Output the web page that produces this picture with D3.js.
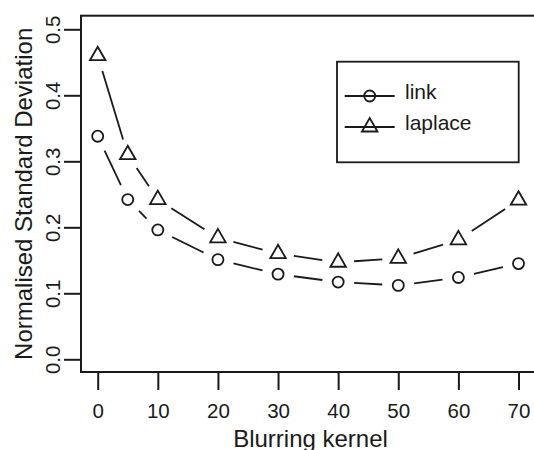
<!DOCTYPE html>
<html>
<head>
<meta charset="utf-8">
<script src="https://cdn.jsdelivr.net/npm/d3@7/dist/d3.min.js"></script>
<style>
  html, body { margin: 0; padding: 0; background: #fff; }
  svg { display: block; }
  text { font-family: "Liberation Sans", Arial, Helvetica, sans-serif; fill: #1a1a1a; }
</style>
</head>
<body>
<svg id="chart" width="534" height="450"></svg>
<script>
// ---- data ----
const kernels = [0, 5, 10, 20, 30, 40, 50, 60, 70];
const linkValues = [0.338, 0.242, 0.196, 0.151, 0.129, 0.117, 0.112, 0.124, 0.145];
const laplaceValues = [0.460, 0.310, 0.242, 0.184, 0.160, 0.147, 0.153, 0.181, 0.241];
const xTicks = [0, 10, 20, 30, 40, 50, 60, 70];
const yTicks = [0.0, 0.1, 0.2, 0.3, 0.4, 0.5];
const seriesNames = ["link", "laplace"];
const xTitle = "Blurring kernel";
const yTitle = "Normalised Standard Deviation";

// ---- layout ----
const W = 534, H = 450;
const box = { left: 81, top: 15.7, bottom: 372, right: 540 };
const ink = "#1a1a1a";

const svg = d3.select("#chart");
const x = d3.scaleLinear().domain([0, 70]).range([97.7, 518.5]);
const y = d3.scaleLinear().domain([0, 0.5]).range([359.3, 29.3]);

// plot box (right side cut off by the picture edge)
svg.append("rect")
  .attr("x", box.left).attr("y", box.top)
  .attr("width", box.right - box.left).attr("height", box.bottom - box.top)
  .attr("fill", "none").attr("stroke", ink).attr("stroke-width", 2);

// x axis
const xAxis = d3.axisBottom(x).tickValues(xTicks).tickSize(18).tickPadding(0)
  .tickFormat(d3.format("d"));
const gx = svg.append("g").attr("transform", `translate(0,${box.bottom})`).call(xAxis);
gx.select(".domain").remove();
gx.selectAll(".tick line").attr("stroke", ink).attr("stroke-width", 2);
gx.selectAll(".tick text")
  .attr("y", 45.5).attr("dy", null)
  .attr("font-size", 20.5).attr("fill", ink)
  .style("font-family", '"Liberation Sans", Arial, sans-serif');

// y axis
const yAxis = d3.axisLeft(y).tickValues(yTicks).tickSize(17).tickPadding(0)
  .tickFormat(d3.format(".1f"));
const gy = svg.append("g").attr("transform", `translate(${box.left},0)`).call(yAxis);
gy.select(".domain").attr("stroke", ink).attr("stroke-width", 2)
  .attr("d", `M0,${y(0)}V${y(0.5)}`);
gy.selectAll(".tick line").attr("stroke", ink).attr("stroke-width", 2);
gy.selectAll(".tick text")
  .attr("x", null).attr("dy", null)
  .attr("transform", "translate(-21,0) rotate(-90)")
  .attr("text-anchor", "middle")
  .attr("font-size", 20.5).attr("fill", ink)
  .style("font-family", '"Liberation Sans", Arial, sans-serif');

// axis titles
svg.append("text")
  .attr("x", 310.5).attr("y", 446.5)
  .attr("text-anchor", "middle").attr("font-size", 24)
  .text(xTitle);
svg.append("text")
  .attr("transform", `translate(32,${(box.top + box.bottom) / 2}) rotate(-90)`)
  .attr("text-anchor", "middle").attr("font-size", 24)
  .text(yTitle);

// ---- markers ----
const R = 6; // symbol radius
function circleMark(g, cx, cy) {
  g.append("circle").attr("cx", cx).attr("cy", cy).attr("r", R * 0.92)
    .attr("fill", "none").attr("stroke", ink).attr("stroke-width", 1.8);
}
function triMark(g, cx, cy) {
  const r = 1.5551 * R * 0.96, h = 1.3468 * R * 0.96, yc = 0.7776 * R * 0.96;
  g.append("path")
    .attr("d", `M${cx},${cy - r}L${cx + h},${cy + yc}L${cx - h},${cy + yc}Z`)
    .attr("fill", "none").attr("stroke", ink).attr("stroke-width", 1.8)
    .attr("stroke-linejoin", "miter");
}

// type "b": segments with gaps around points
function drawSeries(values, markFn) {
  const g = svg.append("g");
  const pts = kernels.map((k, i) => [x(k), y(values[i])]);
  const gap = 16;
  for (let i = 0; i < pts.length - 1; i++) {
    const [x0, y0] = pts[i], [x1, y1] = pts[i + 1];
    const dx = x1 - x0, dy = y1 - y0, L = Math.hypot(dx, dy);
    if (L > 2 * gap) {
      const ux = dx / L, uy = dy / L;
      g.append("line")
        .attr("x1", x0 + ux * gap).attr("y1", y0 + uy * gap)
        .attr("x2", x1 - ux * gap).attr("y2", y1 - uy * gap)
        .attr("stroke", ink).attr("stroke-width", 1.8);
    }
  }
  pts.forEach(p => markFn(g, p[0], p[1]));
}
drawSeries(linkValues, circleMark);
drawSeries(laplaceValues, triMark);

// ---- legend ----
const lg = svg.append("g");
lg.append("rect").attr("x", 337).attr("y", 61.7).attr("width", 181.7).attr("height", 100.6)
  .attr("fill", "#fff").attr("stroke", ink).attr("stroke-width", 1.8);
const rows = [96, 127];
const marks = [circleMark, triMark];
seriesNames.forEach((name, i) => {
  lg.append("line").attr("x1", 344.7).attr("x2", 394.7)
    .attr("y1", rows[i]).attr("y2", rows[i])
    .attr("stroke", ink).attr("stroke-width", 1.8);
  marks[i](lg, 369.7, rows[i]);
  lg.append("text").attr("x", 405).attr("y", rows[i] + 3)
    .attr("font-size", 21).text(name);
});
</script>
</body>
</html>
